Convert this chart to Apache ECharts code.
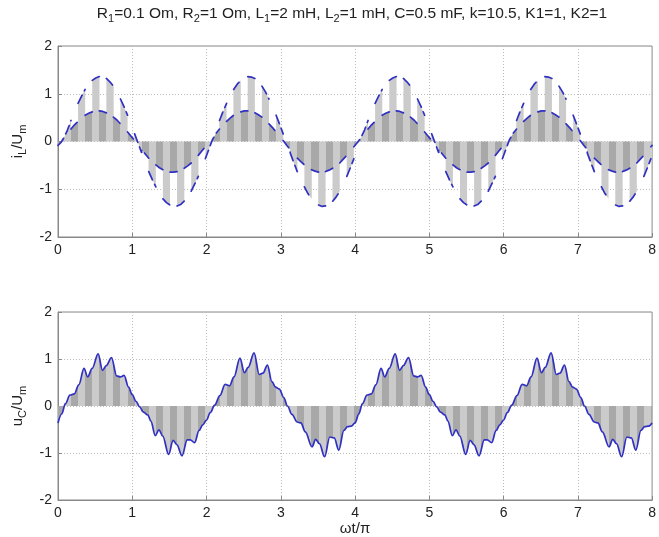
<!DOCTYPE html>
<html><head><meta charset="utf-8">
<script src="https://cdn.jsdelivr.net/npm/echarts@6/dist/echarts.min.js"></script>
<style>html,body{margin:0;padding:0;background:#fff}#c{width:659px;height:537px}</style>
</head><body><div id="c"></div>
<script>
// ---- data ----
const xTicks = [0, 1, 2, 3, 4, 5, 6, 7, 8];
const yTicks = [-2, -1, 0, 1, 2];
// switching instants (stripe edges), in units of ωt/π
const stripeEdges = [0, 0.080, 0.175, 0.270, 0.365, 0.461, 0.556, 0.651, 0.746, 0.841, 0.937,
  1.032, 1.127, 1.222, 1.318, 1.413, 1.508, 1.603, 1.699, 1.794, 1.889, 1.984,
  2.080, 2.175, 2.270, 2.365, 2.461, 2.556, 2.651, 2.746, 2.841, 2.937,
  3.032, 3.127, 3.222, 3.318, 3.413, 3.508, 3.603, 3.699, 3.794, 3.889, 3.984,
  4.080, 4.175, 4.270, 4.365, 4.461, 4.556, 4.651, 4.746, 4.841, 4.937,
  5.032, 5.127, 5.222, 5.318, 5.413, 5.508, 5.603, 5.699, 5.794, 5.889, 5.984,
  6.080, 6.175, 6.270, 6.365, 6.461, 6.556, 6.651, 6.746, 6.841, 6.937,
  7.032, 7.127, 7.222, 7.318, 7.413, 7.508, 7.603, 7.699, 7.794, 7.889, 7.984, 8];
// i_L/U_m at start, middle and end of each stripe
const iLStripes = [
  [-0.08,-0.02,0.08],
  [0.04,0.24,0.44],[0.26,0.35,0.42],[0.80,0.95,1.09],[0.55,0.59,0.62],[1.28,1.33,1.36],[0.64,0.63,0.60],
  [1.32,1.25,1.16],[0.51,0.45,0.37],[0.89,0.73,0.55],[0.20,0.11,0.02],[0.16,-0.04,-0.24],[-0.17,-0.26,-0.35],
  [-0.63,-0.80,-0.95],[-0.49,-0.55,-0.59],[-1.20,-1.28,-1.33],[-0.64,-0.64,-0.63],[-1.35,-1.32,-1.25],[-0.56,-0.51,-0.45],
  [-1.04,-0.89,-0.73],[-0.29,-0.20,-0.11],[-0.36,-0.16,0.04],[0.08,0.17,0.26],[0.44,0.63,0.80],[0.42,0.49,0.55],
  [1.09,1.20,1.28],[0.62,0.64,0.64],[1.36,1.35,1.32],[0.60,0.56,0.51],[1.16,1.04,0.89],[0.37,0.29,0.20],
  [0.55,0.36,0.16],[0.02,-0.08,-0.17],[-0.24,-0.44,-0.63],[-0.35,-0.42,-0.49],[-0.95,-1.09,-1.20],[-0.59,-0.62,-0.64],
  [-1.33,-1.36,-1.35],[-0.63,-0.60,-0.56],[-1.25,-1.16,-1.04],[-0.45,-0.37,-0.29],[-0.73,-0.55,-0.36],[-0.11,-0.02,0.08],
  [0.04,0.24,0.44],[0.26,0.35,0.42],[0.80,0.95,1.09],[0.55,0.59,0.62],[1.28,1.33,1.36],[0.64,0.63,0.60],
  [1.32,1.25,1.16],[0.51,0.45,0.37],[0.89,0.73,0.55],[0.20,0.11,0.02],[0.16,-0.04,-0.24],[-0.17,-0.26,-0.35],
  [-0.63,-0.80,-0.95],[-0.49,-0.55,-0.59],[-1.20,-1.28,-1.33],[-0.64,-0.64,-0.63],[-1.35,-1.32,-1.25],[-0.56,-0.51,-0.45],
  [-1.04,-0.89,-0.73],[-0.29,-0.20,-0.11],[-0.36,-0.16,0.04],[0.08,0.17,0.26],[0.44,0.63,0.80],[0.42,0.49,0.55],
  [1.09,1.20,1.28],[0.62,0.64,0.64],[1.36,1.35,1.32],[0.60,0.56,0.51],[1.16,1.04,0.89],[0.37,0.29,0.20],
  [0.55,0.36,0.16],[0.02,-0.08,-0.17],[-0.24,-0.44,-0.63],[-0.35,-0.42,-0.49],[-0.95,-1.09,-1.20],[-0.59,-0.62,-0.64],
  [-1.33,-1.36,-1.35],[-0.63,-0.60,-0.56],[-1.25,-1.16,-1.04],[-0.45,-0.37,-0.29],[-0.73,-0.55,-0.36],
  [-0.11,-0.10,-0.08]
];
// u_C/U_m samples [ωt/π, value]
const uCPoints = [
  [0.00,-0.36],[0.05,-0.17],[0.10,0.05],[0.16,0.23],[0.22,0.26],[0.28,0.45],[0.35,0.80],[0.40,0.62],[0.46,0.80],[0.54,1.11],
  [0.60,0.76],[0.65,0.86],[0.72,1.03],[0.79,0.64],[0.84,0.62],[0.89,0.65],[0.95,0.40],[1.00,0.24],[1.05,0.10],[1.10,-0.02],
  [1.15,-0.13],[1.21,-0.19],[1.25,-0.32],[1.31,-0.63],[1.36,-0.51],[1.41,-0.64],[1.49,-1.03],[1.55,-0.73],[1.60,-0.82],[1.67,-1.06],
  [1.74,-0.72],[1.78,-0.72],[1.84,-0.78],[1.90,-0.52],[1.95,-0.40],[2.00,-0.30],[2.05,-0.14],[2.11,0.02],[2.18,0.22],[2.25,0.46],
  [2.31,0.43],[2.37,0.62],[2.45,1.02],[2.51,0.71],[2.56,0.82],[2.64,1.13],[2.71,0.67],[2.76,0.70],[2.82,0.87],[2.88,0.52],
  [2.93,0.40],[2.98,0.36],[3.04,0.18],[3.09,0.00],[3.15,-0.18],[3.22,-0.34],[3.27,-0.36],[3.33,-0.55],[3.42,-0.87],[3.47,-0.71],
  [3.52,-0.80],[3.59,-1.08],[3.66,-0.66],[3.72,-0.68],[3.78,-0.94],[3.85,-0.52],[3.90,-0.44],[3.95,-0.43],
  [4.00,-0.36],[4.05,-0.17],[4.10,0.05],[4.16,0.23],[4.22,0.26],[4.28,0.45],[4.35,0.80],[4.40,0.62],[4.46,0.80],[4.54,1.11],
  [4.60,0.76],[4.65,0.86],[4.72,1.03],[4.79,0.64],[4.84,0.62],[4.89,0.65],[4.95,0.40],[5.00,0.24],[5.05,0.10],[5.10,-0.02],
  [5.15,-0.13],[5.21,-0.19],[5.25,-0.32],[5.31,-0.63],[5.36,-0.51],[5.41,-0.64],[5.49,-1.03],[5.55,-0.73],[5.60,-0.82],[5.67,-1.06],
  [5.74,-0.72],[5.78,-0.72],[5.84,-0.78],[5.90,-0.52],[5.95,-0.40],[6.00,-0.30],[6.05,-0.14],[6.11,0.02],[6.18,0.22],[6.25,0.46],
  [6.31,0.43],[6.37,0.62],[6.45,1.02],[6.51,0.71],[6.56,0.82],[6.64,1.13],[6.71,0.67],[6.76,0.70],[6.82,0.87],[6.88,0.52],
  [6.93,0.40],[6.98,0.36],[7.04,0.18],[7.09,0.00],[7.15,-0.18],[7.22,-0.34],[7.27,-0.36],[7.33,-0.55],[7.42,-0.87],[7.47,-0.71],
  [7.52,-0.80],[7.59,-1.08],[7.66,-0.66],[7.72,-0.68],[7.78,-0.94],[7.85,-0.52],[7.90,-0.44],[7.95,-0.43],[8.00,-0.36]
];

// ---- build ----
const FONT = 'Liberation Sans, Arial, Helvetica, sans-serif';
const LIGHT = '#cbcbcb', DARK = '#a8a8a8', BLUE = '#3030c2';
const iLData = [];      // filled area (with switching jumps)
const iLDash = [];      // dashed curve, broken at the large jumps
iLStripes.forEach((v, i) => {
  const a = stripeEdges[i], b = stripeEdges[i + 1];
  iLData.push([a, v[0]], [(a + b) / 2, v[1]], [b, v[2]]);
  if (i > 0 && Math.abs(v[0] - iLStripes[i - 1][2]) > 0.12) iLDash.push([a, '-']);
  iLDash.push([a, v[0]], [(a + b) / 2, v[1]], [b, v[2]]);
});
function makePieces() {
  const p = [];
  for (let i = 0; i < stripeEdges.length - 1; i++) {
    const piece = { gte: stripeEdges[i], color: i % 2 ? LIGHT : DARK };
    if (i === stripeEdges.length - 2) piece.lte = stripeEdges[i + 1]; else piece.lt = stripeEdges[i + 1];
    p.push(piece);
  }
  return p;
}
const axisLabelStyle = { color: '#222', fontSize: 14, fontFamily: FONT, margin: 6 };
function xAx(gi, name) {
  return {
    type: 'value', gridIndex: gi, min: xTicks[0], max: xTicks[xTicks.length - 1], interval: 1,
    axisLine: { show: true, onZero: false, lineStyle: { color: '#888' } },
    axisTick: { show: true, inside: true, length: 4, lineStyle: { color: '#888' } },
    axisLabel: axisLabelStyle,
    splitLine: { show: true, lineStyle: { type: [1, 2], color: '#bbb' } },
    name: name || '', nameLocation: 'middle', nameGap: 21,
    nameTextStyle: { color: '#222', fontSize: 15, fontFamily: FONT }
  };
}
function yAx(gi, name, rich) {
  return {
    type: 'value', gridIndex: gi, min: yTicks[0], max: yTicks[yTicks.length - 1], interval: 1,
    axisLine: { show: true, onZero: false, lineStyle: { color: '#888' } },
    axisTick: { show: true, inside: true, length: 4, lineStyle: { color: '#888' } },
    axisLabel: axisLabelStyle,
    splitLine: { show: true, lineStyle: { type: [1, 2], color: '#bbb' } },
    name: name, nameLocation: 'middle', nameRotate: 90, nameGap: 27,
    nameTextStyle: { rich: rich }
  };
}
const nameRich = {
  a: { fontSize: 15, fontFamily: FONT, color: '#222', lineHeight: 22, verticalAlign: 'middle' },
  s: { fontSize: 11, fontFamily: FONT, color: '#222', lineHeight: 10, verticalAlign: 'bottom' }
};
const titleRich = {
  a: { fontSize: 15.5, fontFamily: FONT, fill: '#222', lineHeight: 20, verticalAlign: 'middle' },
  s: { fontSize: 11, fontFamily: FONT, fill: '#222', lineHeight: 9, verticalAlign: 'bottom' }
};

const chart = echarts.init(document.getElementById('c'), null, { renderer: 'canvas' });
chart.setOption({
  backgroundColor: '#fff',
  animation: false,
  graphic: [{
    type: 'text', x: 352, y: 14,
    style: {
      text: '{a|R}{s|1}{a|=0.1 Om, R}{s|2}{a|=1 Om, L}{s|1}{a|=2 mH, L}{s|2}{a|=1 mH, C=0.5 mF, k=10.5, K1=1, K2=1}',
      rich: titleRich, align: 'center', verticalAlign: 'middle'
    }
  }],
  grid: [
    { left: 58, top: 46, width: 600, height: 191, show: true, borderColor: '#888', borderWidth: 1, backgroundColor: '#fff' },
    { left: 58, top: 312, width: 600, height: 190, show: true, borderColor: '#888', borderWidth: 1, backgroundColor: '#fff' }
  ],
  xAxis: [xAx(0), xAx(1, 'ωt/π')],
  yAxis: [yAx(0, '{a|i}{s|L}{a|/U}{s|m}', nameRich), yAx(1, '{a|u}{s|C}{a|/U}{s|m}', nameRich)],
  visualMap: [
    { type: 'piecewise', show: false, dimension: 0, seriesIndex: 0, pieces: makePieces() },
    { type: 'piecewise', show: false, dimension: 0, seriesIndex: 2, pieces: makePieces() }
  ],
  series: [
    { type: 'line', xAxisIndex: 0, yAxisIndex: 0, data: iLData, symbol: 'none', silent: true,
      lineStyle: { width: 0, opacity: 0 }, areaStyle: { opacity: 1 } },
    { type: 'line', xAxisIndex: 0, yAxisIndex: 0, data: iLDash, symbol: 'none', silent: true, connectNulls: false,
      lineStyle: { color: BLUE, width: 1.7, type: [9, 5], cap: 'round' } },
    { type: 'line', xAxisIndex: 1, yAxisIndex: 1, data: uCPoints, symbol: 'none', silent: true,
      smooth: 0.35, smoothMonotone: 'x', lineStyle: { width: 0, opacity: 0 }, areaStyle: { opacity: 1 } },
    { type: 'line', xAxisIndex: 1, yAxisIndex: 1, data: uCPoints, symbol: 'none', silent: true,
      smooth: 0.35, smoothMonotone: 'x', lineStyle: { color: BLUE, width: 1.7 } }
  ]
});
</script>
</body></html>
